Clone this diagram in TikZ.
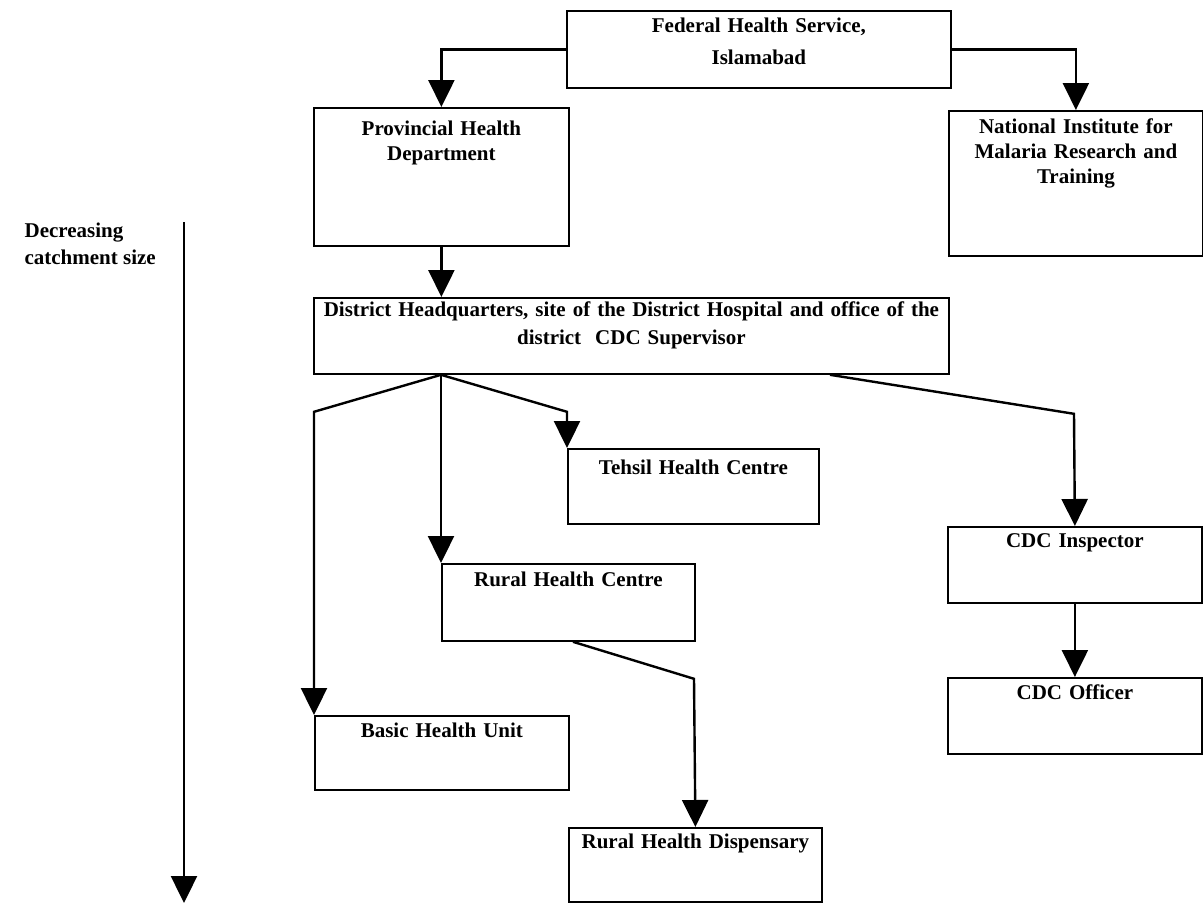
\documentclass[tikz,border=0pt]{standalone}
\usepackage{fontspec}
\setmainfont{Liberation Serif}
\usetikzlibrary{arrows.meta}

\begin{document}
\begin{tikzpicture}[
        x=1pt, y=-1pt,
        unit/.style n args={3}{
            rectangle,
            draw,
            line width=1.8pt,
            anchor=north west,
            align=center,
            inner sep=0pt,
            font=\fontsize{21}{25}\selectfont\bfseries,
            text width=#1,
            text height=#2,
            text depth=#3
        },
        arrow/.style={-{Triangle[width=26pt,length=27pt]}, line width=2.4pt}
    ]
        \useasboundingbox (0,0) rectangle (1203,903);

        \node[unit={384pt}{22pt}{55pt}] (fed) at (566,10) {Federal Health Service,\\[7pt]Islamabad};
        \node[unit={255pt}{28pt}{110pt}] (prov) at (313,107) {Provincial Health\\Department};
        \node[unit={254pt}{23pt}{122pt}] (nimr) at (948,110) {National Institute for\\Malaria Research and\\Training};
        \node[unit={635pt}{19pt}{57pt}] (dhq) at (313,297) {District Headquarters, site of the District Hospital and office of the\\[3pt]district\ \ CDC Supervisor};
        \node[unit={251pt}{26pt}{49pt}] (tehsil) at (567,448) {Tehsil Health Centre};
        \node[unit={253pt}{23pt}{54pt}] (rhc) at (441,563) {Rural Health Centre};
        \node[unit={254pt}{22pt}{52pt}] (bhu) at (314,715) {Basic Health Unit};
        \node[unit={253pt}{21pt}{53pt}] (rhd) at (568,827) {Rural Health Dispensary};
        \node[unit={254pt}{21pt}{55pt}] (cdci) at (947,526) {CDC Inspector};
        \node[unit={254pt}{22pt}{54pt}] (cdco) at (947,677) {CDC Officer};

        \node[anchor=north east, align=left, inner sep=0pt,
              font=\fontsize{21}{27}\selectfont\bfseries] (scale) at (156,223) {Decreasing\\catchment size};
        \coordinate (scaletop) at (184,222);
        \coordinate (scalebot) at (184,903);

        \draw[arrow] (fed.west) -| (prov.north);
        \draw[arrow] (fed.east) -| (nimr.north);
        \draw[arrow] (prov.south) -- (prov.south |- dhq.north);
        \draw[arrow] ([xshift=128pt]dhq.south west) -- ++(-127,37) -- (bhu.north west);
        \draw[arrow] ([xshift=128pt]dhq.south west) -- (rhc.north west);
        \draw[arrow] ([xshift=128pt]dhq.south west) -- ++(126,37) -- (tehsil.north west);
        \draw[arrow] ([xshift=517pt]dhq.south west) -- ++(244,39) -- (cdci.north);
        \draw[arrow] (cdci.south) -- (cdco.north);
        \draw[arrow] ([xshift=132pt]rhc.south west) -- ++(121,37) -- (rhd.north);
        \draw[arrow] (scaletop) -- (scalebot);

    \end{tikzpicture}
\end{document}
